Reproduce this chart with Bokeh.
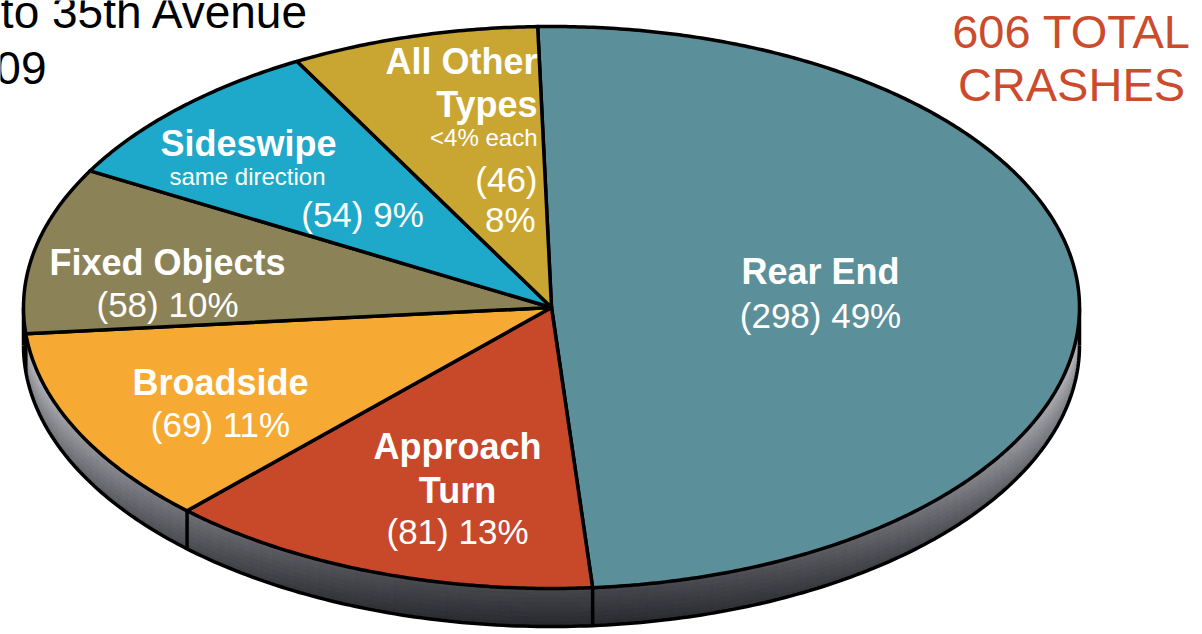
import numpy as np
from bokeh.plotting import figure
from bokeh.models import Range1d
from bokeh.core.properties import value
from bokeh.embed import file_html
from bokeh.resources import INLINE

# ---------------- data ----------------
categories = ["Rear End", "Approach Turn", "Broadside", "Fixed Objects",
              "Sideswipe", "All Other Types"]
counts = [298, 81, 69, 58, 54, 46]
percents = [49, 13, 11, 10, 9, 8]
slice_colors = ["#5b8f99", "#c8482a", "#f7aa33", "#8b8258", "#1ea8c9", "#c9a632"]
name_lines = [["Rear End"], ["Approach", "Turn"], ["Broadside"], ["Fixed Objects"],
              ["Sideswipe"], ["All Other", "Types"]]
sub_notes = ["", "", "", "", "same direction", "<4% each"]
total_lines = ["606 TOTAL", "CRASHES"]
header_lines = ["to 35th Avenue", "09"]

# ---------------- geometry (pixels) ----------------
W, H = 1202, 634
CX, CY, RX, RY, DEPTH = 551.0, 307.0, 528.0, 281.0, 38.0
START = -1.5  # first slice angle (deg, clockwise from top)
LW = 3.5
FONT = value("Liberation Sans")

total = float(sum(counts))
edges = START + np.concatenate([[0.0], np.cumsum(counts)]) / total * 360.0


def ex(theta):
    return CX + RX * np.sin(np.radians(theta))


def ey(theta, dy=0.0):
    return CY - RY * np.cos(np.radians(theta)) + dy


p = figure(width=W, height=H, x_range=Range1d(0, W), y_range=Range1d(H, 0),
           output_backend="svg", toolbar_location=None, min_border=0,
           x_axis_type=None, y_axis_type=None, outline_line_color=None,
           background_fill_color="white", border_fill_color="white")
p.grid.visible = False

# ---------------- side of the pie (front half) ----------------
NB = 8
side_xs, side_ys, side_cols = [], [], []
for i in range(len(counts)):
    lo, hi = max(edges[i], 90.0), min(edges[i + 1], 270.0)
    if hi <= lo:
        continue
    nseg = max(1, int(np.ceil((hi - lo) / 1.5)))
    th = np.linspace(lo, hi, nseg + 1)
    for j in range(nseg):
        ta, tb = th[j], th[j + 1]
        tm = 0.5 * (ta + tb)
        w = max(0.0, -np.cos(np.radians(tm))) ** 1.2
        for k in range(NB):
            f0, f1 = k / NB, (k + 1) / NB
            fm = 0.5 * (f0 + f1)
            top_l = 208 - 138 * w
            bot_l = 140 - 100 * w
            L = top_l + (bot_l - top_l) * fm
            c = "#%02x%02x%02x" % (int(L), int(L), int(min(255, L + 7)))
            side_xs.append([ex(ta), ex(tb), ex(tb), ex(ta)])
            side_ys.append([ey(ta, DEPTH * f0), ey(tb, DEPTH * f0),
                            ey(tb, DEPTH * f1), ey(ta, DEPTH * f1)])
            side_cols.append(c)

p.patches(side_xs, side_ys, fill_color=side_cols, line_color=side_cols, line_width=1)

# side outline: bottom curve and vertical edges
tb_arc = np.linspace(90, 270, 241)
p.line(ex(tb_arc), ey(tb_arc, DEPTH), line_color="black", line_width=LW)
vert = [90.0, 270.0] + [e for e in edges if 90.0 < e < 270.0]
p.segment(x0=[ex(t) for t in vert], y0=[ey(t) for t in vert],
          x1=[ex(t) for t in vert], y1=[ey(t, DEPTH) for t in vert],
          line_color="black", line_width=LW)

# ---------------- top face ----------------
top_xs, top_ys = [], []
for i in range(len(counts)):
    a0, a1 = edges[i], edges[i + 1]
    n = max(3, int((a1 - a0) / 0.5))
    th = np.linspace(a0, a1, n + 1)
    top_xs.append([CX] + list(ex(th)))
    top_ys.append([CY] + list(ey(th)))
p.patches(top_xs, top_ys, fill_color=slice_colors, line_color="black",
          line_width=LW, line_join="round")

# ---------------- labels ----------------
val = [f"({c}) {q}%" for c, q in zip(counts, percents)]
bold_items = [
    (name_lines[0][0], 820, 271), (name_lines[1][0], 457, 446), (name_lines[1][1], 457, 490),
    (name_lines[2][0], 220, 382), (name_lines[3][0], 167, 262), (name_lines[4][0], 248, 143),
]
norm_items = [
    (val[0], 820, 315), (val[1], 457, 531), (val[2], 220, 424),
    (val[3], 167, 304), (val[4], 362, 214),
]
small_items = [(sub_notes[4], 247, 176)]
right_bold = [(name_lines[5][0], 537, 61), (name_lines[5][1], 537, 104)]
right_small = [(sub_notes[5], 537, 137)]
right_norm = [(f"({counts[5]})", 537, 179), (f"{percents[5]}%", 535, 219)]


def put(items, size, style, align, color="white"):
    p.text(x=[t[1] for t in items], y=[t[2] for t in items], text=[t[0] for t in items],
           text_font=FONT, text_font_size=size, text_font_style=style,
           text_color=color, text_align=align, text_baseline="alphabetic")


put(bold_items, "36px", "bold", "center")
put(norm_items, "35px", "normal", "center")
put(small_items, "24px", "normal", "center")
put(right_bold, "36px", "bold", "right")
put(right_small, "24px", "normal", "right")
put(right_norm, "35px", "normal", "right")

# total crashes title
put([(total_lines[0], 1071, 31), (total_lines[1], 1071, 84)], "47px", "normal",
    "center", color="#cc4b2d")
# cropped header text at top-left (cropped in the reference as well)
put([(header_lines[0], 309, 11), (header_lines[1], 46, 67)], "46px", "normal",
    "right", color="black")

open("out.html", "w").write(file_html(p, INLINE))
